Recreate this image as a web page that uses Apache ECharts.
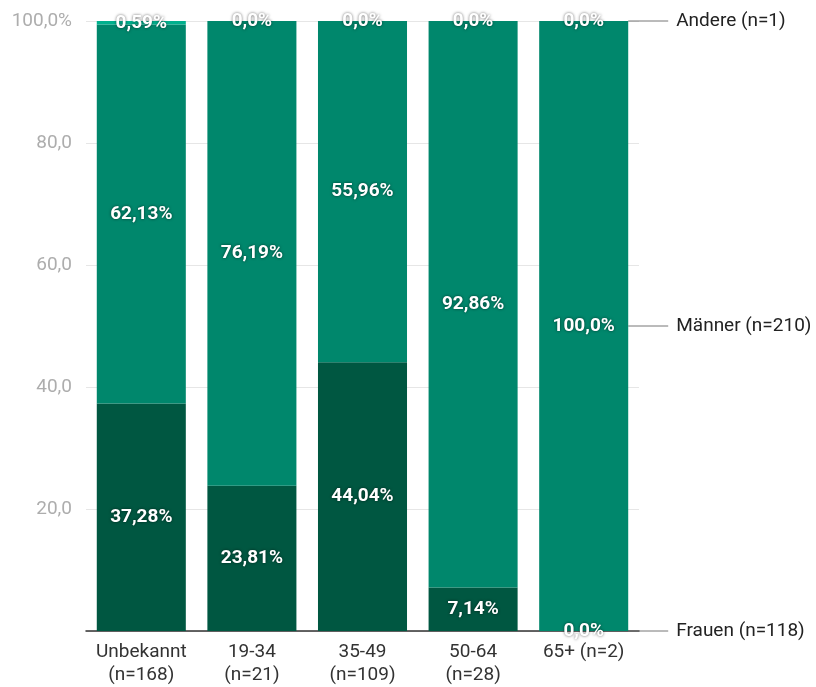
<!DOCTYPE html>
<html>
<head>
<meta charset="utf-8">
<script src="https://cdn.jsdelivr.net/npm/echarts@6/dist/echarts.min.js"></script>
<style>
  html, body { margin: 0; padding: 0; background: #ffffff; }
  #chart { width: 816px; height: 687px; }
</style>
</head>
<body>
<div id="chart"></div>
<script>
// Age groups (x axis)
const categories = ['Unbekannt\n(n=168)', '19-34\n(n=21)', '35-49\n(n=109)', '50-64\n(n=28)', '65+ (n=2)'];
// Share per gender in each age group, percent
const frauen = [37.28, 23.81, 44.04, 7.14, 0.0];
const maenner = [62.13, 76.19, 55.96, 92.86, 100.0];
const andere = [0.59, 0.0, 0.0, 0.0, 0.0];
// Series names shown at the right end
const seriesNames = ['Frauen (n=118)', 'Männer (n=210)', 'Andere (n=1)'];
// Y axis ticks
const yTicks = [20, 40, 60, 80, 100];

const colors = ['#005741', '#00876C', '#00B08D'];
const FONT = 'Roboto, "Noto Sans", sans-serif';

function fmtPct(v) {
  let s = (Math.round(v * 100) / 100).toString();
  if (s.indexOf('.') < 0) s += '.0';
  return s.replace('.', ',') + '%';
}

const barLabel = {
  show: true,
  position: 'inside',
  color: '#ffffff',
  fontFamily: FONT,
  fontWeight: 'bold',
  fontSize: 19,
  textShadowColor: 'rgba(0,0,0,0.6)',
  textShadowBlur: 3,
  formatter: p => fmtPct(p.value)
};

const seriesData = [frauen, maenner, andere];

const chart = echarts.init(document.getElementById('chart'), null, { renderer: 'canvas' });

const option = {
  backgroundColor: '#ffffff',
  animation: false,
  grid: { left: 86, right: 177, top: 21, bottom: 56, containLabel: false },
  xAxis: {
    type: 'category',
    data: categories,
    axisLine: { show: true, lineStyle: { color: '#333333', width: 1.5 } },
    axisTick: { show: false },
    axisLabel: {
      color: '#333333', fontFamily: FONT, fontSize: 19, lineHeight: 23,
      margin: 10, interval: 0
    }
  },
  yAxis: {
    type: 'value',
    min: 0, max: 100, interval: 20,
    axisLine: { show: false },
    axisTick: { show: false },
    splitLine: { show: true, lineStyle: { color: '#e6e6e6', width: 1 } },
    axisLabel: {
      color: '#adadad', fontFamily: FONT, fontSize: 19, margin: 14,
      formatter: v => {
        if (v === 0 || yTicks.indexOf(v) < 0) return '';
        return v === 100 ? '100,0%' : v.toFixed(1).replace('.', ',');
      }
    }
  },
  series: seriesData.map((arr, i) => ({
    name: seriesNames[i],
    type: 'bar',
    stack: 'total',
    barCategoryGap: '19.5%',
    itemStyle: { color: colors[i] },
    label: barLabel,
    labelLayout: { hideOverlap: false },
    z: 2,
    data: arr.slice()
  }))
};

chart.setOption(option);

// End labels with connector lines, placed at the middle of each segment of the last bar
function endLabels() {
  const last = categories.length - 1;
  const bandW = chart.convertToPixel({ xAxisIndex: 0 }, categories[1]) - chart.convertToPixel({ xAxisIndex: 0 }, categories[0]);
  const barHalf = bandW * (1 - 0.195) / 2;
  const cx = chart.convertToPixel({ xAxisIndex: 0 }, categories[last]);
  const x0 = cx + barHalf;
  const x1 = x0 + 40;
  let base = 0;
  const els = [];
  seriesData.forEach((arr, i) => {
    const v = arr[last];
    const mid = base + v / 2;
    base += v;
    const y = chart.convertToPixel({ yAxisIndex: 0 }, mid);
    els.push({
      type: 'line', z: 1,
      shape: { x1: x0, y1: y, x2: x1, y2: y },
      style: { stroke: '#777777', lineWidth: 1 }
    });
    els.push({
      type: 'text', z: 5,
      x: x1 + 8, y: y,
      style: {
        text: seriesNames[i], fill: '#222222', font: '19px ' + FONT,
        verticalAlign: 'middle', align: 'left'
      }
    });
  });
  chart.setOption({ graphic: els });
}
endLabels();
</script>
</body>
</html>
